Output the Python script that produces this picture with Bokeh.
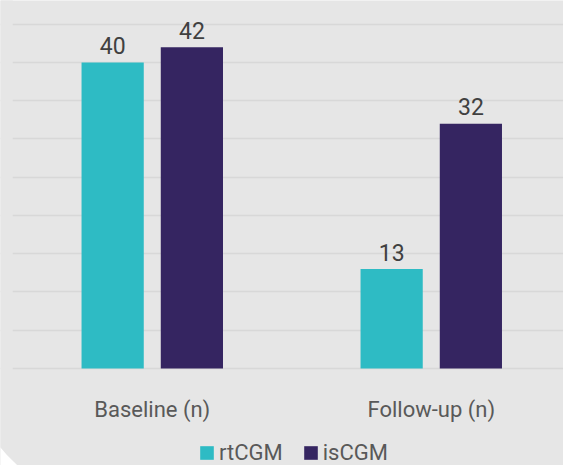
from bokeh.plotting import figure
from bokeh.models import (ColumnDataSource, Range1d, FixedTicker, Legend,
                          LegendItem, BoxAnnotation)
from bokeh.core.properties import value
from bokeh.embed import file_html
from bokeh.resources import INLINE

# Data
groups = ["Baseline (n)", "Follow-up (n)"]
series = ["rtCGM", "isCGM"]
rtcgm = [40, 13]
iscgm = [42, 32]
grid_ticks = [0, 5, 10, 15, 20, 25, 30, 35, 40, 45]

# Style
colors = ["#2EBBC4", "#352561"]
FONT = "Roboto"
BG = "#E6E6E6"
GRID = "#D8D8D8"
LABEL_DARK = "#404040"
LABEL_GREY = "#595959"
BAR_WIDTH = 0.223
OFFSET = 0.142
GRID_LEFT = -0.5
X0, X1 = -0.544, 1.474
Y0, Y1 = -12.68, 48.1

p = figure(width=563, height=465,
           x_range=Range1d(X0, X1), y_range=Range1d(Y0, Y1),
           output_backend="svg", toolbar_location=None,
           min_border=0)
p.background_fill_color = BG
p.border_fill_color = BG
p.outline_line_color = None
p.axis.visible = False
p.xgrid.visible = False
p.ygrid.ticker = FixedTicker(ticks=grid_ticks)
p.ygrid.grid_line_color = GRID
p.ygrid.grid_line_width = 1.5

# keep the grid clear of the left margin
p.add_layout(BoxAnnotation(left=X0 - 0.1, right=GRID_LEFT,
                           bottom=Y0 - 5, top=Y1 + 5,
                           fill_color=BG, fill_alpha=1, line_color=None,
                           level="underlay"))

renderers = []
for k, (name, vals) in enumerate(zip(series, [rtcgm, iscgm])):
    off = -OFFSET if k == 0 else OFFSET
    src = ColumnDataSource(dict(
        x=[i + off for i in range(len(groups))],
        top=vals,
        label=[str(v) for v in vals],
    ))
    r = p.vbar(x="x", top="top", bottom=0, width=BAR_WIDTH, source=src,
               fill_color=colors[k], line_color=None)
    renderers.append(r)
    p.text(x="x", y="top", text="label", source=src,
           text_align="center", text_baseline="alphabetic", y_offset=-17,
           text_font=value(FONT), text_font_size="23px",
           text_color=LABEL_DARK)

# category labels under the baseline
cat_src = ColumnDataSource(dict(x=list(range(len(groups))),
                                y=[0] * len(groups), text=groups))
p.text(x="x", y="y", text="text", source=cat_src,
       text_align="center", text_baseline="alphabetic", y_offset=41,
       text_font=value(FONT), text_font_size="22px", text_color=LABEL_GREY)

legend = Legend(
    items=[LegendItem(label=n, renderers=[r]) for n, r in zip(series, renderers)],
    orientation="horizontal", location=(198, 0),
    glyph_width=17, glyph_height=17, label_standoff=4, spacing=19,
    padding=0, margin=0, border_line_color=None, background_fill_alpha=0,
    label_text_font=FONT, label_text_font_size="22px",
    label_text_color=LABEL_GREY,
)
p.add_layout(legend)

# rounded card corner at the bottom left (white cut-out)
p.patch(x=[X0 - 0.05, X0, -0.5226, -0.501, -0.483, -0.47, X0 - 0.05],
        y=[-10.33, -10.33, -11.24, -12.03, Y0, Y0 - 1, Y0 - 1],
        fill_color="white", line_color=None)

open("out.html", "w").write(file_html(p, INLINE))
